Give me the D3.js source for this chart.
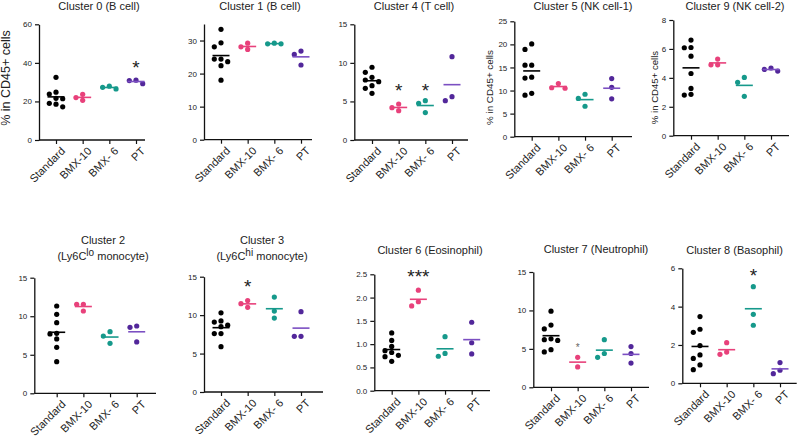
<!DOCTYPE html>
<html>
<head>
<meta charset="utf-8">
<script src="https://cdn.jsdelivr.net/npm/d3@7"></script>
<style>
  body { margin: 0; background: #fff; }
  text { font-family: "Liberation Sans", Arial, sans-serif; fill: #222; }
</style>
</head>
<body>
<div id="chart"></div>
<script>
// groups on every x axis
var groups = ["Standard", "BMX-10", "BMX- 6", "PT"];

// values per cluster: one array per group (Standard, BMX-10, BMX- 6, PT)
var cluster0 = [[32.5, 24.8, 23.8, 21.6, 21.4, 19.0, 18.6, 17.2], [23.7, 20.6, 22.0], [26.5, 27.9, 27.3], [29.2, 31.0, 30.8]];
var cluster1 = [[33.4, 28.1, 29.3, 24.4, 24.4, 23.6, 22.4, 18.0], [29.2, 27.3, 28.1], [29.0, 29.2, 29.0], [26.8, 25.8, 22.6]];
var cluster4 = [[9.43, 8.78, 8.13, 7.78, 7.56, 7.04, 6.7, 6.05], [4.67, 3.8, 4.19], [5.1, 4.76, 3.55], [10.8, 5.1, 5.62]];
var cluster5 = [[20.1, 18.9, 15.5, 15.5, 12.7, 12.9, 9.0, 9.4], [10.5, 11.5, 10.6], [9.2, 8.3, 6.6], [12.6, 10.7, 8.2]];
var cluster9 = [[6.61, 6.1, 6.08, 5.5, 4.3, 3.27, 2.81, 2.86], [4.9, 5.3, 4.9], [4.03, 3.69, 2.72], [4.47, 4.68, 4.58]];
var cluster2 = [[11.33, 10.25, 9.17, 7.78, 7.7, 7.05, 5.97, 4.1], [11.55, 11.55, 10.68], [7.99, 7.43, 6.48], [8.73, 8.56, 6.66]];
var cluster3 = [[10.3, 9.25, 9.1, 8.7, 8.5, 7.6, 7.6, 5.9], [11.9, 11.01, 11.49], [12.35, 10.53, 9.62], [10.45, 7.24, 7.24]];
var cluster6 = [[1.24, 1.08, 0.95, 0.86, 0.82, 0.76, 0.73, 0.63], [2.16, 1.82, 1.91], [1.16, 0.74, 0.80], [1.47, 1.03, 0.79]];
var cluster7 = [[9.9, 8.1, 7.6, 6.3, 6.2, 6.1, 4.9, 4.6], [3.9, 2.65], [6.2, 3.9, 4.4], [5.3, 4.4, 3.15]];
var cluster8 = [[3.48, 2.82, 2.66, 1.97, 1.30, 1.48, 0.96, 0.71], [2.12, 1.51, 1.63], [5.04, 3.6, 3.03], [1.08, 0.5, 0.68]];

// y tick labels
var ticks0 = [0, 20, 40, 60];
var ticks1 = [0, 10, 20, 30];
var ticks15 = [0, 5, 10, 15];
var ticks25 = [0, 5, 10, 15, 20, 25];
var ticks8 = [0, 2, 4, 6, 8];
var ticks6 = [0, 2, 4, 6];
var ticksEos = [0, 0.5, 1.0, 1.5, 2.0, 2.5];

// significance marks: panel, group, label, value level of the mark
var sigPanel = ["c0", "c4", "c4", "c3", "c6", "c7", "c8"];
var sigGroup = ["PT", "BMX-10", "BMX- 6", "BMX-10", "BMX-10", "BMX-10", "BMX- 6"];
var sigText = ["*", "*", "*", "*", "***", "*", "*"];
var sigLevel = [40, 7.0, 7.0, 14.3, 2.56, 5.5, 5.9];

var dotColors = ["#000000", "#e8417b", "#16998b", "#52279a"];
var lineColors = ["#000000", "#e8417b", "#16998b", "#7b4fc2"];
var yLabel = "% in CD45+ cells";

var svg = d3.select("#chart").append("svg")
    .attr("width", 798)
    .attr("height", 443)
    .style("background", "#fff");

// layout of the ten small panels
var panels = [
    {id: "c0", values: cluster0, ticks: ticks0, max: 60, x0: 39, cx: 56, x1: 145, top: 24.3, bottom: 140,
     title: ["Cluster 0 (B cell)"], tx: 99, ty: 9.5, ylab: {x: 10, y: 78, size: 12.5}},
    {id: "c1", values: cluster1, ticks: ticks1, max: 35, x0: 204, cx: 221, x1: 312, top: 24, bottom: 139.7,
     title: ["Cluster 1 (B cell)"], tx: 260, ty: 9.5},
    {id: "c4", values: cluster4, ticks: ticks15, max: 15, x0: 354.3, cx: 372, x1: 468, top: 24.3, bottom: 140,
     title: ["Cluster 4 (T cell)"], tx: 414, ty: 9.5},
    {id: "c5", values: cluster5, ticks: ticks25, max: 25, x0: 514.3, cx: 531.7, x1: 632, top: 21.3, bottom: 136.7,
     title: ["Cluster 5 (NK cell-1)"], tx: 583, ty: 9.5, ylab: {x: 493, y: 87.5, size: 9.8}},
    {id: "c9", values: cluster9, ticks: ticks8, max: 8, x0: 673.3, cx: 691, x1: 789, top: 20, bottom: 135.7,
     title: ["Cluster 9 (NK cell-2)"], tx: 735, ty: 9.5, ylab: {x: 658, y: 87.5, size: 9.6}},
    {id: "c2", values: cluster2, ticks: ticks15, max: 15, x0: 34.3, cx: 56.7, x1: 156, top: 277.7, bottom: 393.3,
     title: ["Cluster 2", "lo"], tx: 103, ty: 244},
    {id: "c3", values: cluster3, ticks: ticks15, max: 15, x0: 204, cx: 221, x1: 323, top: 276.7, bottom: 392,
     title: ["Cluster 3", "hi"], tx: 262, ty: 244},
    {id: "c6", values: cluster6, ticks: ticksEos, max: 2.5, x0: 374.3, cx: 391.7, x1: 490, top: 274.3, bottom: 390.7,
     title: ["Cluster 6 (Eosinophil)"], tx: 430, ty: 254, fmt: ".1f"},
    {id: "c7", values: cluster7, ticks: ticks15, max: 15, x0: 533.3, cx: 551, x1: 649, top: 272, bottom: 387.3,
     title: ["Cluster 7 (Neutrophil)"], tx: 596, ty: 253},
    {id: "c8", values: cluster8, ticks: ticks6, max: 6, x0: 682.3, cx: 700, x1: 796.7, top: 268.3, bottom: 383.3,
     title: ["Cluster 8 (Basophil)"], tx: 734.5, ty: 254}
];

// spread points sideways like a prism scatter plot
function swarm(vals, y) {
    var step = 6.7, minGap = 5.6;
    var pts = vals.map(function(v) { return {v: v, py: y(v)}; });
    var order = pts.slice().sort(function(a, b) { return b.v - a.v; });
    var placed = [];
    var offs = [0, -1, 1, -2, 2, -3, 3];
    order.forEach(function(p) {
        var k;
        for (k = 0; k < offs.length; k++) {
            var dx = offs[k] * step;
            var hit = placed.some(function(q) {
                return Math.abs(q.dx - dx) < 0.1 && Math.abs(q.py - p.py) < minGap;
            });
            if (!hit) break;
        }
        p.dx = offs[k] * step;
        placed.push(p);
    });
    return pts;
}

panels.forEach(drawPanel);

function drawPanel(p) {
    var g = svg.append("g").attr("class", "panel");
    var y = d3.scaleLinear().domain([0, p.max]).range([p.bottom, p.top]);
    var x = d3.scalePoint().domain(groups).range([p.cx, p.cx + 80]);

    // y axis
    var yAxis = d3.axisLeft(y)
        .tickValues(p.ticks)
        .tickSize(4)
        .tickSizeOuter(0)
        .tickPadding(3)
        .tickFormat(d3.format(p.fmt || "d"));
    var ya = g.append("g")
        .attr("transform", "translate(" + p.x0 + ",0)")
        .call(yAxis);
    ya.select(".domain").attr("stroke", "#111").attr("stroke-width", 1.3);
    ya.selectAll(".tick line").attr("stroke", "#111").attr("stroke-width", 1.2);
    ya.selectAll(".tick text").attr("font-size", 8).attr("fill", "#222")
        .attr("font-family", "Liberation Sans, Arial, sans-serif");

    // x axis
    g.append("line")
        .attr("x1", p.x0).attr("x2", p.x1)
        .attr("y1", p.bottom).attr("y2", p.bottom)
        .attr("stroke", "#111").attr("stroke-width", 1.3);
    var xa = g.append("g")
        .attr("transform", "translate(0," + p.bottom + ")")
        .call(d3.axisBottom(x).tickSize(4).tickFormat(""));
    xa.select(".domain").remove();
    xa.selectAll(".tick line").attr("stroke", "#111").attr("stroke-width", 1.2);

    g.selectAll(".xlab")
        .data(groups)
        .enter().append("text")
        .attr("class", "xlab")
        .attr("text-anchor", "end")
        .attr("dy", "0.35em")
        .attr("font-size", 11)
        .attr("transform", function(d) {
            return "translate(" + (x(d) + 7) + "," + (p.bottom + 9) + ")rotate(-45)";
        })
        .text(function(d) { return d; });

    // points and mean lines
    p.values.forEach(function(vals, gi) {
        var cx = x(groups[gi]);
        var pts = swarm(vals, y);
        g.selectAll(".dot" + gi)
            .data(pts)
            .enter().append("circle")
            .attr("class", "dot" + gi)
            .attr("cx", function(d) { return cx + d.dx; })
            .attr("cy", function(d) { return d.py; })
            .attr("r", 2.6)
            .style("fill", dotColors[gi]);
        var m = d3.mean(vals);
        g.append("line")
            .attr("x1", cx - 8.5).attr("x2", cx + 8.5)
            .attr("y1", y(m)).attr("y2", y(m))
            .attr("stroke", lineColors[gi])
            .attr("stroke-width", 1.6);
    });

    // title
    if (p.title.length === 1) {
        g.append("text")
            .attr("x", p.tx).attr("y", p.ty)
            .attr("text-anchor", "middle")
            .attr("font-size", 11)
            .text(p.title[0]);
    } else {
        g.append("text")
            .attr("x", p.tx).attr("y", p.ty)
            .attr("text-anchor", "middle")
            .attr("font-size", 11)
            .text(p.title[0]);
        var t2 = g.append("text")
            .attr("x", p.tx).attr("y", p.ty + 16)
            .attr("text-anchor", "middle")
            .attr("font-size", 11);
        t2.append("tspan").text("(Ly6C");
        t2.append("tspan").attr("dy", -4).attr("font-size", 10).text(p.title[1]);
        t2.append("tspan").attr("dy", 4).text(" monocyte)");
    }

    // y label
    if (p.ylab) {
        g.append("text")
            .attr("transform", "translate(" + p.ylab.x + "," + p.ylab.y + ")rotate(-90)")
            .attr("text-anchor", "middle")
            .attr("font-size", p.ylab.size)
            .text(yLabel);
    }

    // significance
    sigPanel.forEach(function(id, i) {
        if (id !== p.id) return;
        var fs = id === "c7" ? 10 : 19;
        g.append("text")
            .attr("x", x(sigGroup[i]))
            .attr("y", y(sigLevel[i]) + fs * 0.6)
            .attr("text-anchor", "middle")
            .attr("font-size", fs)
            .style("fill", id === "c7" ? "#666" : "#222")
            .text(sigText[i]);
    });
}
</script>
</body>
</html>
